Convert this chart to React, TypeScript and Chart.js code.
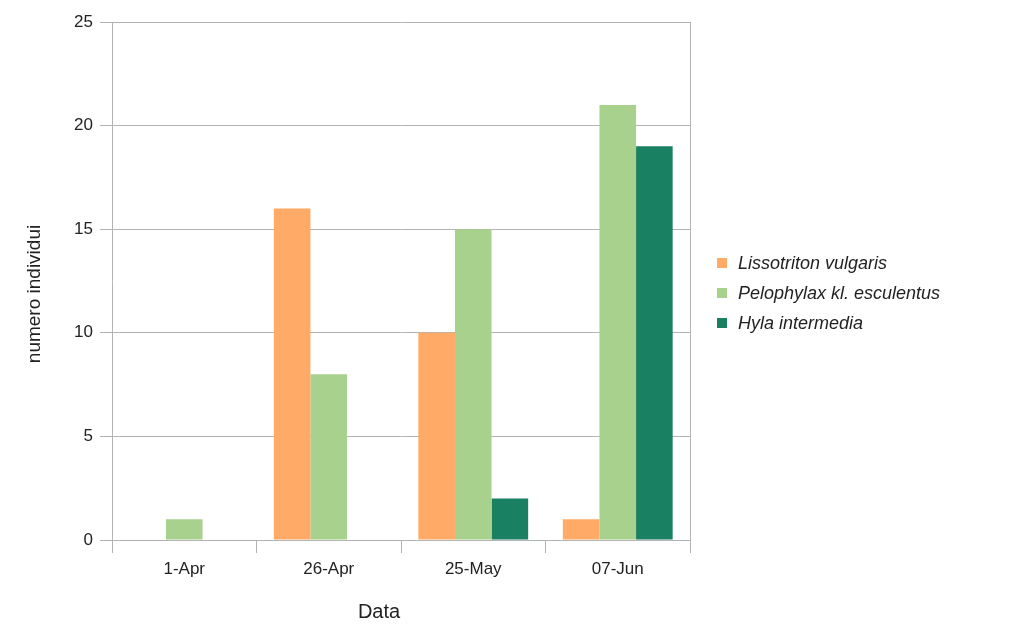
import React, { useEffect, useRef } from "react";
import { Chart, registerables } from "chart.js";

Chart.register(...registerables);

const categories = ["1-Apr", "26-Apr", "25-May", "07-Jun"];
const seriesNames = ["Lissotriton vulgaris", "Pelophylax kl. esculentus", "Hyla intermedia"];
const lissotriton = [0, 16, 10, 1];
const pelophylax = [1, 8, 15, 21];
const hyla = [0, 0, 2, 19];
const seriesColors = ["#FFAA66", "#A9D18E", "#1A8062"];
const yTitle = "numero individui";
const xTitle = "Data";

const FONT = "'Liberation Sans', Arial, sans-serif";
const GRID = "#b3b3b3";
const TEXT = "#222222";

const decorPlugin = {
  id: "decor",
  afterDraw(chart: any) {
    const ctx = chart.ctx as CanvasRenderingContext2D;
    const area = chart.chartArea;
    ctx.save();
    // right border
    ctx.strokeStyle = GRID;
    ctx.lineWidth = 1;
    ctx.beginPath();
    ctx.moveTo(Math.round(area.right) + 0.5, area.top);
    ctx.lineTo(Math.round(area.right) + 0.5, area.bottom);
    ctx.stroke();

    // axis titles
    ctx.fillStyle = TEXT;
    ctx.textAlign = "center";
    ctx.textBaseline = "middle";
    ctx.font = `19px ${FONT}`;
    ctx.save();
    ctx.translate(35, 294);
    ctx.rotate(-Math.PI / 2);
    ctx.fillText(yTitle, 0, 0);
    ctx.restore();
    ctx.font = `20px ${FONT}`;
    ctx.fillText(xTitle, 379, 612);

    // legend
    ctx.textAlign = "left";
    ctx.font = `italic 18px ${FONT}`;
    chart.data.datasets.forEach((ds: any, i: number) => {
      const cy = 263 + i * 30;
      ctx.fillStyle = ds.backgroundColor;
      ctx.fillRect(717, cy - 5, 10, 10);
      ctx.fillStyle = TEXT;
      ctx.fillText(ds.label, 738, cy + 1);
    });
    ctx.restore();
  },
};

export default function App() {
  const ref = useRef<HTMLCanvasElement>(null);
  useEffect(() => {
    if (!ref.current) return;
    const values = [lissotriton, pelophylax, hyla];
    const chart = new Chart(ref.current, {
      type: "bar",
      data: {
        labels: categories,
        datasets: seriesNames.map((name, i) => ({
          label: name,
          data: values[i],
          backgroundColor: seriesColors[i],
          borderWidth: 0,
          categoryPercentage: 0.76,
          barPercentage: 1.0,
        })),
      },
      options: {
        animation: false,
        responsive: false,
        devicePixelRatio: 1,
        layout: { padding: { left: 0, top: 22, right: 325, bottom: 0 } },
        plugins: {
          legend: { display: false },
          tooltip: { enabled: false },
          title: { display: false },
        },
        scales: {
          x: {
            offset: true,
            afterFit: (scale: any) => {
              scale.height = 86;
            },
            grid: {
              offset: true,
              drawOnChartArea: false,
              drawTicks: true,
              tickLength: 13,
              color: GRID,
            },
            border: { display: true, color: GRID },
            ticks: {
              padding: 6,
              color: TEXT,
              font: { family: FONT, size: 17 },
              maxRotation: 0,
            },
          },
          y: {
            min: 0,
            max: 25,
            afterFit: (scale: any) => {
              scale.width = 112;
            },
            grid: {
              color: GRID,
              tickLength: 12,
              drawTicks: true,
            },
            border: { display: true, color: GRID },
            ticks: {
              stepSize: 5,
              padding: 7,
              color: TEXT,
              font: { family: FONT, size: 17 },
            },
          },
        },
      },
      plugins: [decorPlugin],
    });
    return () => chart.destroy();
  }, []);
  return (
    <div style={{ position: "absolute", left: 0, top: 0, width: 1015, height: 626, background: "#fff" }}>
      <canvas ref={ref} width={1015} height={626} style={{ width: 1015, height: 626 }} />
    </div>
  );
}
